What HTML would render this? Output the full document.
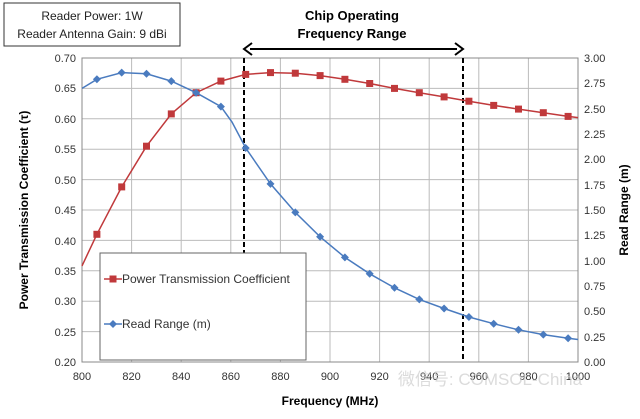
<!DOCTYPE html>
<html><head><meta charset="utf-8"><style>
body{margin:0;background:#fff;width:640px;height:414px;overflow:hidden;font-family:"Liberation Sans",sans-serif}
</style></head><body>
<svg width="640" height="414" xmlns="http://www.w3.org/2000/svg" font-family="Liberation Sans, sans-serif">
<rect x="4" y="3" width="176" height="43" fill="#fff" stroke="#333" stroke-width="1"/>
<text x="92" y="20" font-size="12" text-anchor="middle" fill="#222">Reader Power: 1W</text>
<text x="92" y="38" font-size="12" text-anchor="middle" fill="#222">Reader Antenna Gain: 9 dBi</text>
<text x="352" y="20" font-size="13" font-weight="bold" text-anchor="middle">Chip Operating</text>
<text x="352" y="38" font-size="13" font-weight="bold" text-anchor="middle">Frequency Range</text>
<line x1="250" y1="49" x2="457" y2="49" stroke="#000" stroke-width="2"/>
<path d="M252,43 L244,49 L252,55" fill="none" stroke="#000" stroke-width="2"/>
<path d="M455,43 L463,49 L455,55" fill="none" stroke="#000" stroke-width="2"/>
<g stroke="#bbb" stroke-width="1">
<line x1="82" y1="58" x2="578" y2="58"/><line x1="82" y1="88.4" x2="578" y2="88.4"/><line x1="82" y1="118.8" x2="578" y2="118.8"/><line x1="82" y1="149.2" x2="578" y2="149.2"/><line x1="82" y1="179.6" x2="578" y2="179.6"/><line x1="82" y1="210" x2="578" y2="210"/><line x1="82" y1="240.4" x2="578" y2="240.4"/><line x1="82" y1="270.8" x2="578" y2="270.8"/><line x1="82" y1="301.2" x2="578" y2="301.2"/><line x1="82" y1="331.6" x2="578" y2="331.6"/>
<line x1="131.6" y1="58" x2="131.6" y2="362"/><line x1="181.2" y1="58" x2="181.2" y2="362"/><line x1="230.8" y1="58" x2="230.8" y2="362"/><line x1="280.4" y1="58" x2="280.4" y2="362"/><line x1="330" y1="58" x2="330" y2="362"/><line x1="379.6" y1="58" x2="379.6" y2="362"/><line x1="429.2" y1="58" x2="429.2" y2="362"/><line x1="478.8" y1="58" x2="478.8" y2="362"/><line x1="528.4" y1="58" x2="528.4" y2="362"/>
</g>
<rect x="82" y="58" width="496" height="304" fill="none" stroke="#888"/>
<g font-size="11" fill="#333" text-anchor="end">
<text x="76" y="62">0.70</text><text x="76" y="92">0.65</text><text x="76" y="123">0.60</text><text x="76" y="153">0.55</text><text x="76" y="184">0.50</text><text x="76" y="214">0.45</text><text x="76" y="245">0.40</text><text x="76" y="275">0.35</text><text x="76" y="305">0.30</text><text x="76" y="336">0.25</text><text x="76" y="366">0.20</text>
</g>
<g font-size="11" fill="#333" text-anchor="start">
<text x="584" y="62">3.00</text><text x="584" y="87">2.75</text><text x="584" y="113">2.50</text><text x="584" y="138">2.25</text><text x="584" y="163">2.00</text><text x="584" y="189">1.75</text><text x="584" y="214">1.50</text><text x="584" y="239">1.25</text><text x="584" y="265">1.00</text><text x="584" y="290">0.75</text><text x="584" y="315">0.50</text><text x="584" y="341">0.25</text><text x="584" y="366">0.00</text>
</g>
<g font-size="11" fill="#333" text-anchor="middle">
<text x="82" y="380">800</text><text x="131.6" y="380">820</text><text x="181.2" y="380">840</text><text x="230.8" y="380">860</text><text x="280.4" y="380">880</text><text x="330" y="380">900</text><text x="379.6" y="380">920</text><text x="429.2" y="380">940</text><text x="478.8" y="380">960</text><text x="528.4" y="380">980</text><text x="578" y="380">1000</text>
</g>
<text x="330" y="405" font-size="12" font-weight="bold" text-anchor="middle">Frequency (MHz)</text>
<text transform="translate(28,210) rotate(-90)" font-size="12" font-weight="bold" text-anchor="middle">Power Transmission Coefficient (τ)</text>
<text transform="translate(628,210) rotate(-90)" font-size="12" font-weight="bold" text-anchor="middle">Read Range (m)</text>
<line x1="244" y1="58" x2="244" y2="362" stroke="#000" stroke-width="2" stroke-dasharray="5,3"/>
<line x1="463" y1="58" x2="463" y2="362" stroke="#000" stroke-width="2" stroke-dasharray="5,3"/>
<polyline fill="none" stroke="#c0393b" stroke-width="1.5" points="82,265.9 96.9,234.3 121.7,186.9 146.5,146.2 171.3,113.9 196.1,92.7 220.9,81.1 245.7,74.4 270.5,72.6 295.3,73.2 320.1,75.6 344.9,79.3 369.7,83.5 394.5,88.4 419.3,92.7 444.1,96.9 468.9,101.2 493.7,105.4 518.5,109.1 543.3,112.7 568.1,116.4 578,117.6"/>
<g fill="#c0393b">
<rect x="93.4" y="230.8" width="7" height="7"/><rect x="118.2" y="183.4" width="7" height="7"/><rect x="143" y="142.7" width="7" height="7"/><rect x="167.8" y="110.4" width="7" height="7"/><rect x="192.6" y="89.2" width="7" height="7"/><rect x="217.4" y="77.6" width="7" height="7"/><rect x="242.2" y="70.9" width="7" height="7"/><rect x="267" y="69.1" width="7" height="7"/><rect x="291.8" y="69.7" width="7" height="7"/><rect x="316.6" y="72.1" width="7" height="7"/><rect x="341.4" y="75.8" width="7" height="7"/><rect x="366.2" y="80" width="7" height="7"/><rect x="391" y="84.9" width="7" height="7"/><rect x="415.8" y="89.2" width="7" height="7"/><rect x="440.6" y="93.4" width="7" height="7"/><rect x="465.4" y="97.7" width="7" height="7"/><rect x="490.2" y="101.9" width="7" height="7"/><rect x="515" y="105.6" width="7" height="7"/><rect x="539.8" y="109.2" width="7" height="7"/><rect x="564.6" y="112.9" width="7" height="7"/>
</g>
<polyline fill="none" stroke="#4a7bbf" stroke-width="1.5" points="82,88.4 96.9,79.3 121.7,72.6 146.5,73.8 171.3,81.1 196.1,92.7 220.9,106.6 232,122 245.7,148 270.5,183.9 295.3,212.4 320.1,236.8 344.9,257.4 369.7,273.8 394.5,287.8 419.3,299.4 444.1,308.5 468.9,317 493.7,323.7 518.5,329.8 543.3,334.6 568.1,338.3 578,339.5"/>
<g fill="#4a7bbf">
<path d="M96.9,75.3l4,4-4,4-4-4z"/><path d="M121.7,68.6l4,4-4,4-4-4z"/><path d="M146.5,69.8l4,4-4,4-4-4z"/><path d="M171.3,77.1l4,4-4,4-4-4z"/><path d="M196.1,88.7l4,4-4,4-4-4z"/><path d="M220.9,102.6l4,4-4,4-4-4z"/><path d="M245.7,144l4,4-4,4-4-4z"/><path d="M270.5,179.9l4,4-4,4-4-4z"/><path d="M295.3,208.4l4,4-4,4-4-4z"/><path d="M320.1,232.8l4,4-4,4-4-4z"/><path d="M344.9,253.4l4,4-4,4-4-4z"/><path d="M369.7,269.8l4,4-4,4-4-4z"/><path d="M394.5,283.8l4,4-4,4-4-4z"/><path d="M419.3,295.4l4,4-4,4-4-4z"/><path d="M444.1,304.5l4,4-4,4-4-4z"/><path d="M468.9,313l4,4-4,4-4-4z"/><path d="M493.7,319.7l4,4-4,4-4-4z"/><path d="M518.5,325.8l4,4-4,4-4-4z"/><path d="M543.3,330.6l4,4-4,4-4-4z"/><path d="M568.1,334.3l4,4-4,4-4-4z"/>
</g>
<rect x="100" y="253" width="206" height="107" fill="#fff" stroke="#666"/>
<line x1="104" y1="279" x2="122" y2="279" stroke="#c0393b" stroke-width="1.5"/><rect x="109.5" y="275.5" width="7" height="7" fill="#c0393b"/>
<text x="122" y="283" font-size="12" fill="#333">Power Transmission Coefficient</text>
<line x1="104" y1="324" x2="122" y2="324" stroke="#4a7bbf" stroke-width="1.5"/><path d="M113,320l4,4-4,4-4-4z" fill="#4a7bbf"/>
<text x="122" y="328" font-size="12" fill="#333">Read Range (m)</text>
<text x="490" y="385" font-size="17" fill="#ccc" text-anchor="middle" opacity="0.7">微信号: COMSOL-China</text>
</svg>
</body></html>
